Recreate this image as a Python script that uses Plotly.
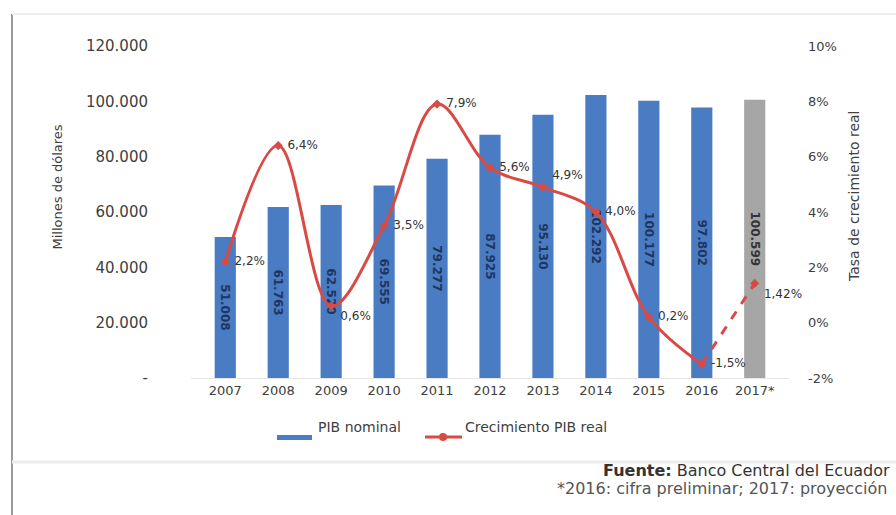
import plotly.graph_objects as go

years = ["2007", "2008", "2009", "2010", "2011", "2012", "2013", "2014", "2015", "2016", "2017*"]
pib_nominal = [51008, 61763, 62520, 69555, 79277, 87925, 95130, 102292, 100177, 97802, 100599]
crecimiento = [2.2, 6.4, 0.6, 3.5, 7.9, 5.6, 4.9, 4.0, 0.2, -1.5, 1.42]
crec_labels = ["2,2%", "6,4%", "0,6%", "3,5%", "7,9%", "5,6%", "4,9%", "4,0%", "0,2%", "-1,5%", "1,42%"]
left_ticks = [0, 20000, 40000, 60000, 80000, 100000, 120000]
left_ticktext = ["-", "20.000", "40.000", "60.000", "80.000", "100.000", "120.000"]
right_ticks = [-2, 0, 2, 4, 6, 8, 10]
right_ticktext = ["-2%", "0%", "2%", "4%", "6%", "8%", "10%"]

W, H = 896, 515
L, R, T, B = 191, 789, 46, 378

def xp(px):
    return (px - L) / (R - L)

def yp(py):
    return (B - py) / (B - T)

BLUE = "#4A7CC4"
GRAY = "#A6A6A6"
RED = "#D94A45"
FONT = "DejaVu Sans"
TXT = "#404040"

bar_colors = [BLUE] * (len(years) - 1) + [GRAY]
bar_text_colors = ["#1F3560"] * (len(years) - 1) + ["#333333"]

fig = go.Figure()
fig.add_trace(go.Bar(
    x=years, y=pib_nominal, name="PIB nominal",
    marker=dict(color=bar_colors, line=dict(width=0)),
    texttemplate="<b>%{y:,.0f}</b>", textposition="inside", insidetextanchor="middle",
    textangle=90, textfont=dict(family=FONT, size=12, color=bar_text_colors),
    yaxis="y", showlegend=False,
))

n_solid = len(years) - 1
pos = ["middle right"] * len(years)
pos[2] = "bottom right"
pos[6] = "top right"

fig.add_trace(go.Scatter(
    x=years[:n_solid], y=crecimiento[:n_solid], name="Crecimiento PIB real",
    mode="lines+markers+text", line=dict(color=RED, width=3, shape="spline", smoothing=1.0),
    marker=dict(color=RED, size=7, symbol="diamond"),
    text=[" " + t for t in crec_labels[:n_solid]], textposition=pos[:n_solid],
    textfont=dict(family=FONT, size=12, color="#333333"),
    yaxis="y2", showlegend=False, cliponaxis=False,
))
fig.add_trace(go.Scatter(
    x=years[n_solid - 1:], y=crecimiento[n_solid - 1:], name="proy",
    mode="lines+markers+text", line=dict(color=RED, width=3, dash="dash"),
    marker=dict(color=RED, size=7, symbol="diamond"),
    text=["", " " + crec_labels[-1]], textposition=["middle right", "bottom right"],
    textfont=dict(family=FONT, size=12, color="#333333"),
    yaxis="y2", showlegend=False, cliponaxis=False,
))

fig.update_layout(
    width=W, height=H,
    margin=dict(l=L, r=W - R, t=T, b=H - B, pad=0),
    paper_bgcolor="white", plot_bgcolor="white",
    separators=",.",
    bargap=0.6,
    font=dict(family=FONT, size=13, color=TXT),
    xaxis=dict(type="category", tickfont=dict(size=13, color=TXT),
               showline=True, linecolor="#e6e6e6", linewidth=1, ticks="",
               showgrid=False),
    yaxis=dict(range=[0, 120000], tickvals=left_ticks, ticktext=left_ticktext,
               showgrid=False, zeroline=False, ticks="", ticklabelstandoff=42,
               tickfont=dict(size=15, color=TXT)),
    yaxis2=dict(range=[-2, 10], tickvals=right_ticks, ticktext=right_ticktext,
                overlaying="y", side="right", showgrid=False, zeroline=False,
                ticks="", ticklabelstandoff=18,
                tickfont=dict(size=13, color=TXT)),
    showlegend=False,
)

# custom legend
fig.add_shape(type="rect", xref="paper", yref="paper", x0=xp(277), x1=xp(312),
              y0=yp(440), y1=yp(435), fillcolor=BLUE, line=dict(width=0))
fig.add_annotation(x=xp(316), y=yp(437), xref="paper", yref="paper", xanchor="left",
                   text="PIB nominal", showarrow=False, font=dict(size=14, color=TXT))
fig.add_shape(type="line", xref="paper", yref="paper", x0=xp(425), x1=xp(462),
              y0=yp(437), y1=yp(437), line=dict(color=RED, width=3))
fig.add_shape(type="circle", xref="paper", yref="paper", x0=xp(439), x1=xp(447),
              y0=yp(441), y1=yp(433), fillcolor=RED, line=dict(width=0))
fig.add_annotation(x=xp(463), y=yp(437), xref="paper", yref="paper", xanchor="left",
                   text="Crecimiento PIB real", showarrow=False, font=dict(size=14, color=TXT))

fig.add_annotation(x=xp(48), y=yp(187), xref="paper", yref="paper",
                   text="Millones de dólares", textangle=-90, showarrow=False,
                   font=dict(size=13, color=TXT))
fig.add_annotation(x=xp(864), y=yp(197), xref="paper", yref="paper",
                   text="Tasa de crecimiento real", textangle=-90, showarrow=False,
                   font=dict(size=14, color=TXT))
fig.add_annotation(x=xp(601), y=yp(482), xref="paper", yref="paper", xanchor="left",
                   text="<b>Fuente:</b> Banco Central del Ecuador", showarrow=False,
                   font=dict(size=16, color="#333333"))
fig.add_annotation(x=xp(555), y=yp(500), xref="paper", yref="paper", xanchor="left",
                   text="*2016: cifra preliminar; 2017: proyección", showarrow=False,
                   font=dict(size=16, color="#555555"))

fig.add_shape(type="line", xref="paper", yref="paper", x0=xp(12), x1=xp(12),
              y0=yp(14), y1=yp(515), line=dict(color="#9a9a9a", width=2))
fig.add_shape(type="line", xref="paper", yref="paper", x0=xp(12), x1=xp(896),
              y0=yp(14), y1=yp(14), line=dict(color="#eeeeee", width=2))
fig.add_shape(type="line", xref="paper", yref="paper", x0=xp(12), x1=xp(896),
              y0=yp(462), y1=yp(462), line=dict(color="#ececec", width=3))

fig.write_html("out.html")
